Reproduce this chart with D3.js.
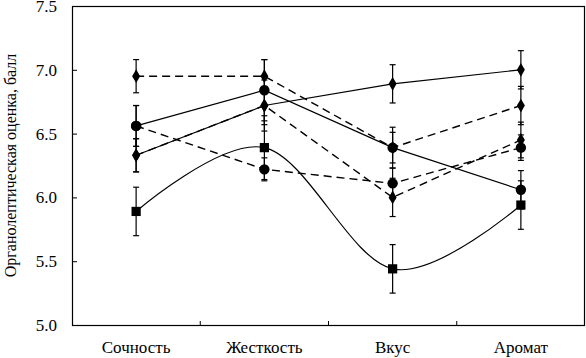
<!DOCTYPE html>
<html>
<head>
<meta charset="utf-8">
<script src="https://cdn.jsdelivr.net/npm/d3@7"></script>
<style>
  body { margin: 0; background: #fff; }
  text { font-family: "Liberation Serif", "DejaVu Serif", serif; fill: #000; }
</style>
</head>
<body>
<svg width="586" height="358"></svg>
<script>
const categories = ['Сочность', 'Жесткость', 'Вкус', 'Аромат']
const yTicks = [5.0, 5.5, 6.0, 6.5, 7.0, 7.5]

// solid lines
const diamondSolid = [6.33, 6.72, 6.89, 7.00]
const diamondSolidErr = [0.13, 0.15, 0.15, 0.15]
const circleSolid = [6.56, 6.84, 6.39, 6.06]
const circleSolidErr = [0.16, 0.24, 0.16, 0.15]
const squareSmooth = [5.89, 6.39, 5.44, 5.94]
const squareSmoothErr = [0.19, 0.25, 0.19, 0.19]
// dashed lines
const diamondDash1 = [6.95, 6.95, 6.39, 6.72]
const diamondDash1Err = [0.13, 0.13, 0.12, 0.15]
const diamondDash2 = [6.33, 6.72, 6.00, 6.45]
const diamondDash2Err = [0.13, 0.2, 0.15, 0.14]
const circleDash = [6.56, 6.22, 6.11, 6.39]
const circleDashErr = [0.16, 0.09, 0.12, 0.1]

const series = [
    { values: diamondSolid, err: diamondSolidErr, marker: 'diamond', dash: null, curve: d3.curveLinear },
    { values: circleSolid, err: circleSolidErr, marker: 'circle', dash: null, curve: d3.curveLinear },
    { values: squareSmooth, err: squareSmoothErr, marker: 'square', dash: null, curve: d3.curveCardinal.tension(0) },
    { values: diamondDash1, err: diamondDash1Err, marker: 'diamond', dash: '8,5', curve: d3.curveLinear },
    { values: diamondDash2, err: diamondDash2Err, marker: 'diamond', dash: '8,5', curve: d3.curveLinear },
    { values: circleDash, err: circleDashErr, marker: 'circle', dash: '8,5', curve: d3.curveLinear }
]

const LEFT = 72, RIGHT = 585, TOP = 6, BOTTOM = 325

const svg = d3.select('svg')

const x = d3.scaleBand().domain(categories).range([LEFT, RIGHT]).padding(0)
const y = d3.scaleLinear().domain([5, 7.5]).range([BOTTOM, TOP])
const cx = c => x(c) + x.bandwidth() / 2

// y axis with inward ticks
const yAxis = svg.append('g')
    .attr('transform', `translate(${LEFT},0)`)
    .call(d3.axisLeft(y).tickValues(yTicks).tickFormat(d3.format('.1f'))
        .tickSizeInner(-5).tickSizeOuter(0).tickPadding(15))
yAxis.select('.domain').remove()
yAxis.selectAll('line').attr('stroke', '#000')
yAxis.selectAll('text').attr('font-size', 17).attr('fill', '#000')

// category labels
const xAxis = svg.append('g')
    .attr('transform', `translate(0,${BOTTOM})`)
    .call(d3.axisBottom(x).tickSize(0).tickPadding(16))
xAxis.select('.domain').remove()
xAxis.selectAll('text').attr('font-size', 17).attr('fill', '#000')

// inward ticks between categories
svg.append('g').selectAll('line')
    .data(categories.slice(1))
    .enter()
    .append('line')
    .attr('x1', d => x(d)).attr('x2', d => x(d))
    .attr('y1', BOTTOM).attr('y2', BOTTOM - 4)
    .attr('stroke', '#000')

// frame
svg.append('rect')
    .attr('x', LEFT + 0.5).attr('y', TOP + 0.5)
    .attr('width', RIGHT - LEFT - 1).attr('height', BOTTOM - TOP)
    .attr('fill', 'none').attr('stroke', '#000').attr('stroke-width', 1.2)

// y title
svg.append('text')
    .attr('transform', `translate(16,${(TOP + BOTTOM) / 2}) rotate(-90)`)
    .attr('text-anchor', 'middle')
    .attr('font-size', 16)
    .text('Органолептическая оценка, балл')

const chart = svg.append('g')

// lines
series.forEach(s => {
    const line = d3.line()
        .x((d, i) => cx(categories[i]))
        .y(d => y(d))
        .curve(s.curve)
    chart.append('path')
        .datum(s.values)
        .attr('d', line)
        .attr('fill', 'none')
        .attr('stroke', '#000')
        .attr('stroke-width', s.dash ? 1.4 : 1.2)
        .attr('stroke-dasharray', s.dash)
})

// error bars
series.forEach(s => {
    const g = chart.append('g')
    s.values.forEach((v, i) => {
        const px = cx(categories[i])
        const lo = y(v - s.err[i]), hi = y(v + s.err[i])
        g.append('line').attr('x1', px).attr('x2', px).attr('y1', lo).attr('y2', hi)
            .attr('stroke', '#000').attr('stroke-width', 1.2)
        ;[lo, hi].forEach(py => {
            g.append('line').attr('x1', px - 3).attr('x2', px + 3).attr('y1', py).attr('y2', py)
                .attr('stroke', '#000').attr('stroke-width', 1.2)
        })
    })
})

// markers
const symbolType = { diamond: d3.symbolDiamond, circle: d3.symbolCircle, square: d3.symbolSquare }
const symbolSize = { diamond: 55, circle: 85, square: 85 }
series.forEach(s => {
    chart.append('g').selectAll('path')
        .data(s.values)
        .enter()
        .append('path')
        .attr('transform', (d, i) => `translate(${cx(categories[i])},${y(d)})`)
        .attr('d', d3.symbol().type(symbolType[s.marker]).size(symbolSize[s.marker]))
        .attr('fill', '#000')
})
</script>
</body>
</html>
